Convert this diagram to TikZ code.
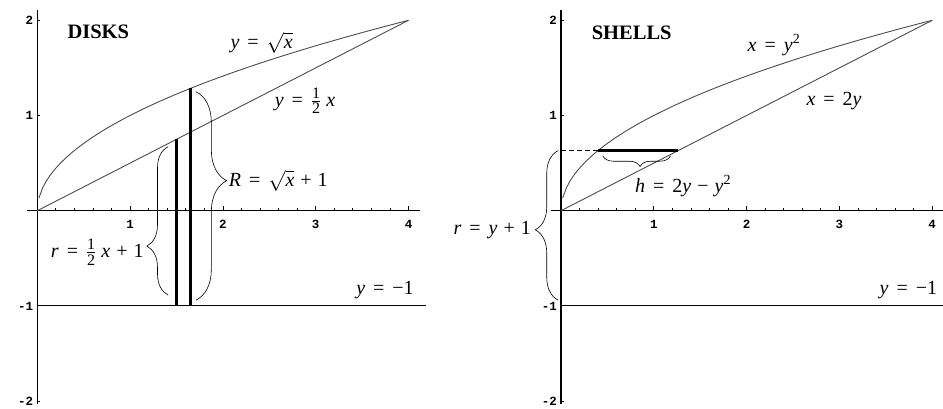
\documentclass[tikz,border=0pt]{standalone}
\usepackage{amsmath}
\usepackage{fontspec}
\setmainfont{Liberation Serif}
\newfontfamily\ticksfont{Liberation Mono}
\usetikzlibrary{positioning,decorations.pathreplacing}
\newcommand{\Eq}{\hspace{0.4em}=\hspace{0.4em}}
\newcommand{\Pl}{\hspace{0.3em}+\hspace{0.3em}}
\newcommand{\Mn}{\hspace{0.3em}−\hspace{0.3em}}
\newcommand{\Dg}[1]{\mbox{\fontsize{16}{16}\selectfont #1}}
\newcommand{\Half}{$\genfrac{}{}{0.6pt}{}{\Dg{1}}{\Dg{2}}$}
\newcommand{\Rt}[1]{$\sqrt{\text{\itshape #1}}$}

\begin{document}
\begin{tikzpicture}[
  x=92.8pt, y=95.2pt,
  axis/.style={line width=1.2pt},
  curve/.style={line width=0.9pt,black!70},
  bar/.style={line width=3pt},
  brc/.style 2 args={decorate,decoration={brace,amplitude=#1,aspect=#2},line width=0.6pt},
  lab/.style={inner sep=1pt,font=\fontsize{20}{22}\selectfont},
  ttl/.style={inner sep=1pt,font=\fontsize{20.5}{22}\selectfont\bfseries},
  tick/.style={inner sep=0pt,font=\ticksfont\bfseries\fontsize{12.5}{12.5}\selectfont},
]
\useasboundingbox (-37.3pt,-198.3pt) rectangle (905.7pt,210.7pt);
% both plots: axes, ticks, the two curves
\foreach \sx/\p in {0/d,523.7/s} {
  \begin{scope}[xshift=\sx pt]
    \draw[axis] (-0.11,0) -- (4.12,0);
    \draw[axis] (0,-2.03) -- (0,2.11);
    \draw[axis] (0,-1) -- (4.19,-1);
    \foreach \i in {1,...,20} \draw[line width=0.8pt] (\i/5,0) -- ++(0,2.5pt);
    \foreach \i in {1,...,4} {
      \draw[line width=0.8pt] (\i,0) -- ++(0,4.5pt);
      \node[tick,anchor=base,yshift=-17.6pt] (\p x\i) at (\i,0) {\i};
    }
    \foreach \j [count=\k] in {-2,-1,1,2} {
      \draw[line width=0.8pt] (0,\j) -- ++(3pt,0);
      \node[tick,anchor=base east,xshift=-4pt,yshift=-4.5pt] (\p y\k) at (0,\j) {\j};
    }
    \draw[curve] plot[domain=0.018:4,samples=100] (\x,{sqrt(\x)});
    \draw[curve] (0,0) -- (4,2);
  \end{scope}
}
% disks
\coordinate (inB) at (1.5,-1);
\coordinate (inT) at (1.5,0.75);
\coordinate (outB) at (1.65,-1);
\coordinate (outT) at (1.65,1.2845);
\draw[bar] (inB) -- (inT);
\draw[bar] (outB) -- (outT);
\coordinate (rB) at (1.41,-0.887);
\coordinate (rT) at (1.41,0.674);
\coordinate (rtip) at (1.18,-0.372);
\draw[brc={21.3pt}{0.33}] (rB) -- (rT);
\coordinate (RT) at (1.71,1.25);
\coordinate (RB) at (1.71,-0.94);
\coordinate (Rtip) at (2.04,0.315);
\draw[brc={30.7pt}{0.427}] (RT) -- (RB);
\node[ttl] (disks) at (0.657,1.877) {DISKS};
\node[lab] (sqrtlab) at (2.418,1.762) {\textit{y}\Eq\Rt{x}};
\node[lab] (halflab) at (2.885,1.152) {\textit{y}\Eq\Half\hspace{0.25em}\textit{x}};
\node[lab,right=1pt of Rtip] (Rlab) {\textit{R}\Eq\Rt{x}\Pl 1};
\node[lab,left=2pt of rtip,yshift=-6pt] (rlab) {\textit{r}\Eq\Half\hspace{0.25em}\textit{x}\Pl 1};
\node[lab] (linelab) at (3.747,-0.833) {\textit{y}\Eq−1};
% shells
\begin{scope}[xshift=523.7pt]
  \coordinate (yA) at (0,0.632);
  \coordinate (hL) at (0.4,0.632);
  \coordinate (hR) at (1.265,0.632);
  \draw[bar] (hL) -- (hR);
  \draw[dash pattern=on 5pt off 3pt,line width=0.9pt] (yA) -- (hL);
  \coordinate (rSB) at (-0.03,-0.94);
  \coordinate (rST) at (-0.03,0.632);
  \coordinate (rStip) at (-0.28,-0.203);
  \draw[brc={23pt}{0.47}] (rSB) -- (rST);
  \coordinate (hbR) at (1.18,0.576);
  \coordinate (hbL) at (0.45,0.576);
  \coordinate (htip) at (0.851,0.464);
  \draw[brc={10.7pt}{0.45}] (hbR) -- (hbL);
  \node[ttl] (shells) at (0.762,1.867) {SHELLS};
  \node[lab] (sqlab) at (2.295,1.741) {\textit{x}\Eq\textit{y}\textsuperscript{2}};
  \node[lab] (twolab) at (2.942,1.152) {\textit{x}\Eq2\textit{y}};
  \node[lab,below right=8pt and -6pt of htip] (hlab) {\textit{h}\Eq2\textit{y}\Mn\textit{y}\textsuperscript{2}};
  \node[lab,left=3pt of rStip] (rSlab) {\textit{r}\Eq\textit{y}\Pl 1};
  \node[lab] (lineSlab) at (3.743,-0.833) {\textit{y}\Eq−1};
\end{scope}
\end{tikzpicture}
\end{document}
